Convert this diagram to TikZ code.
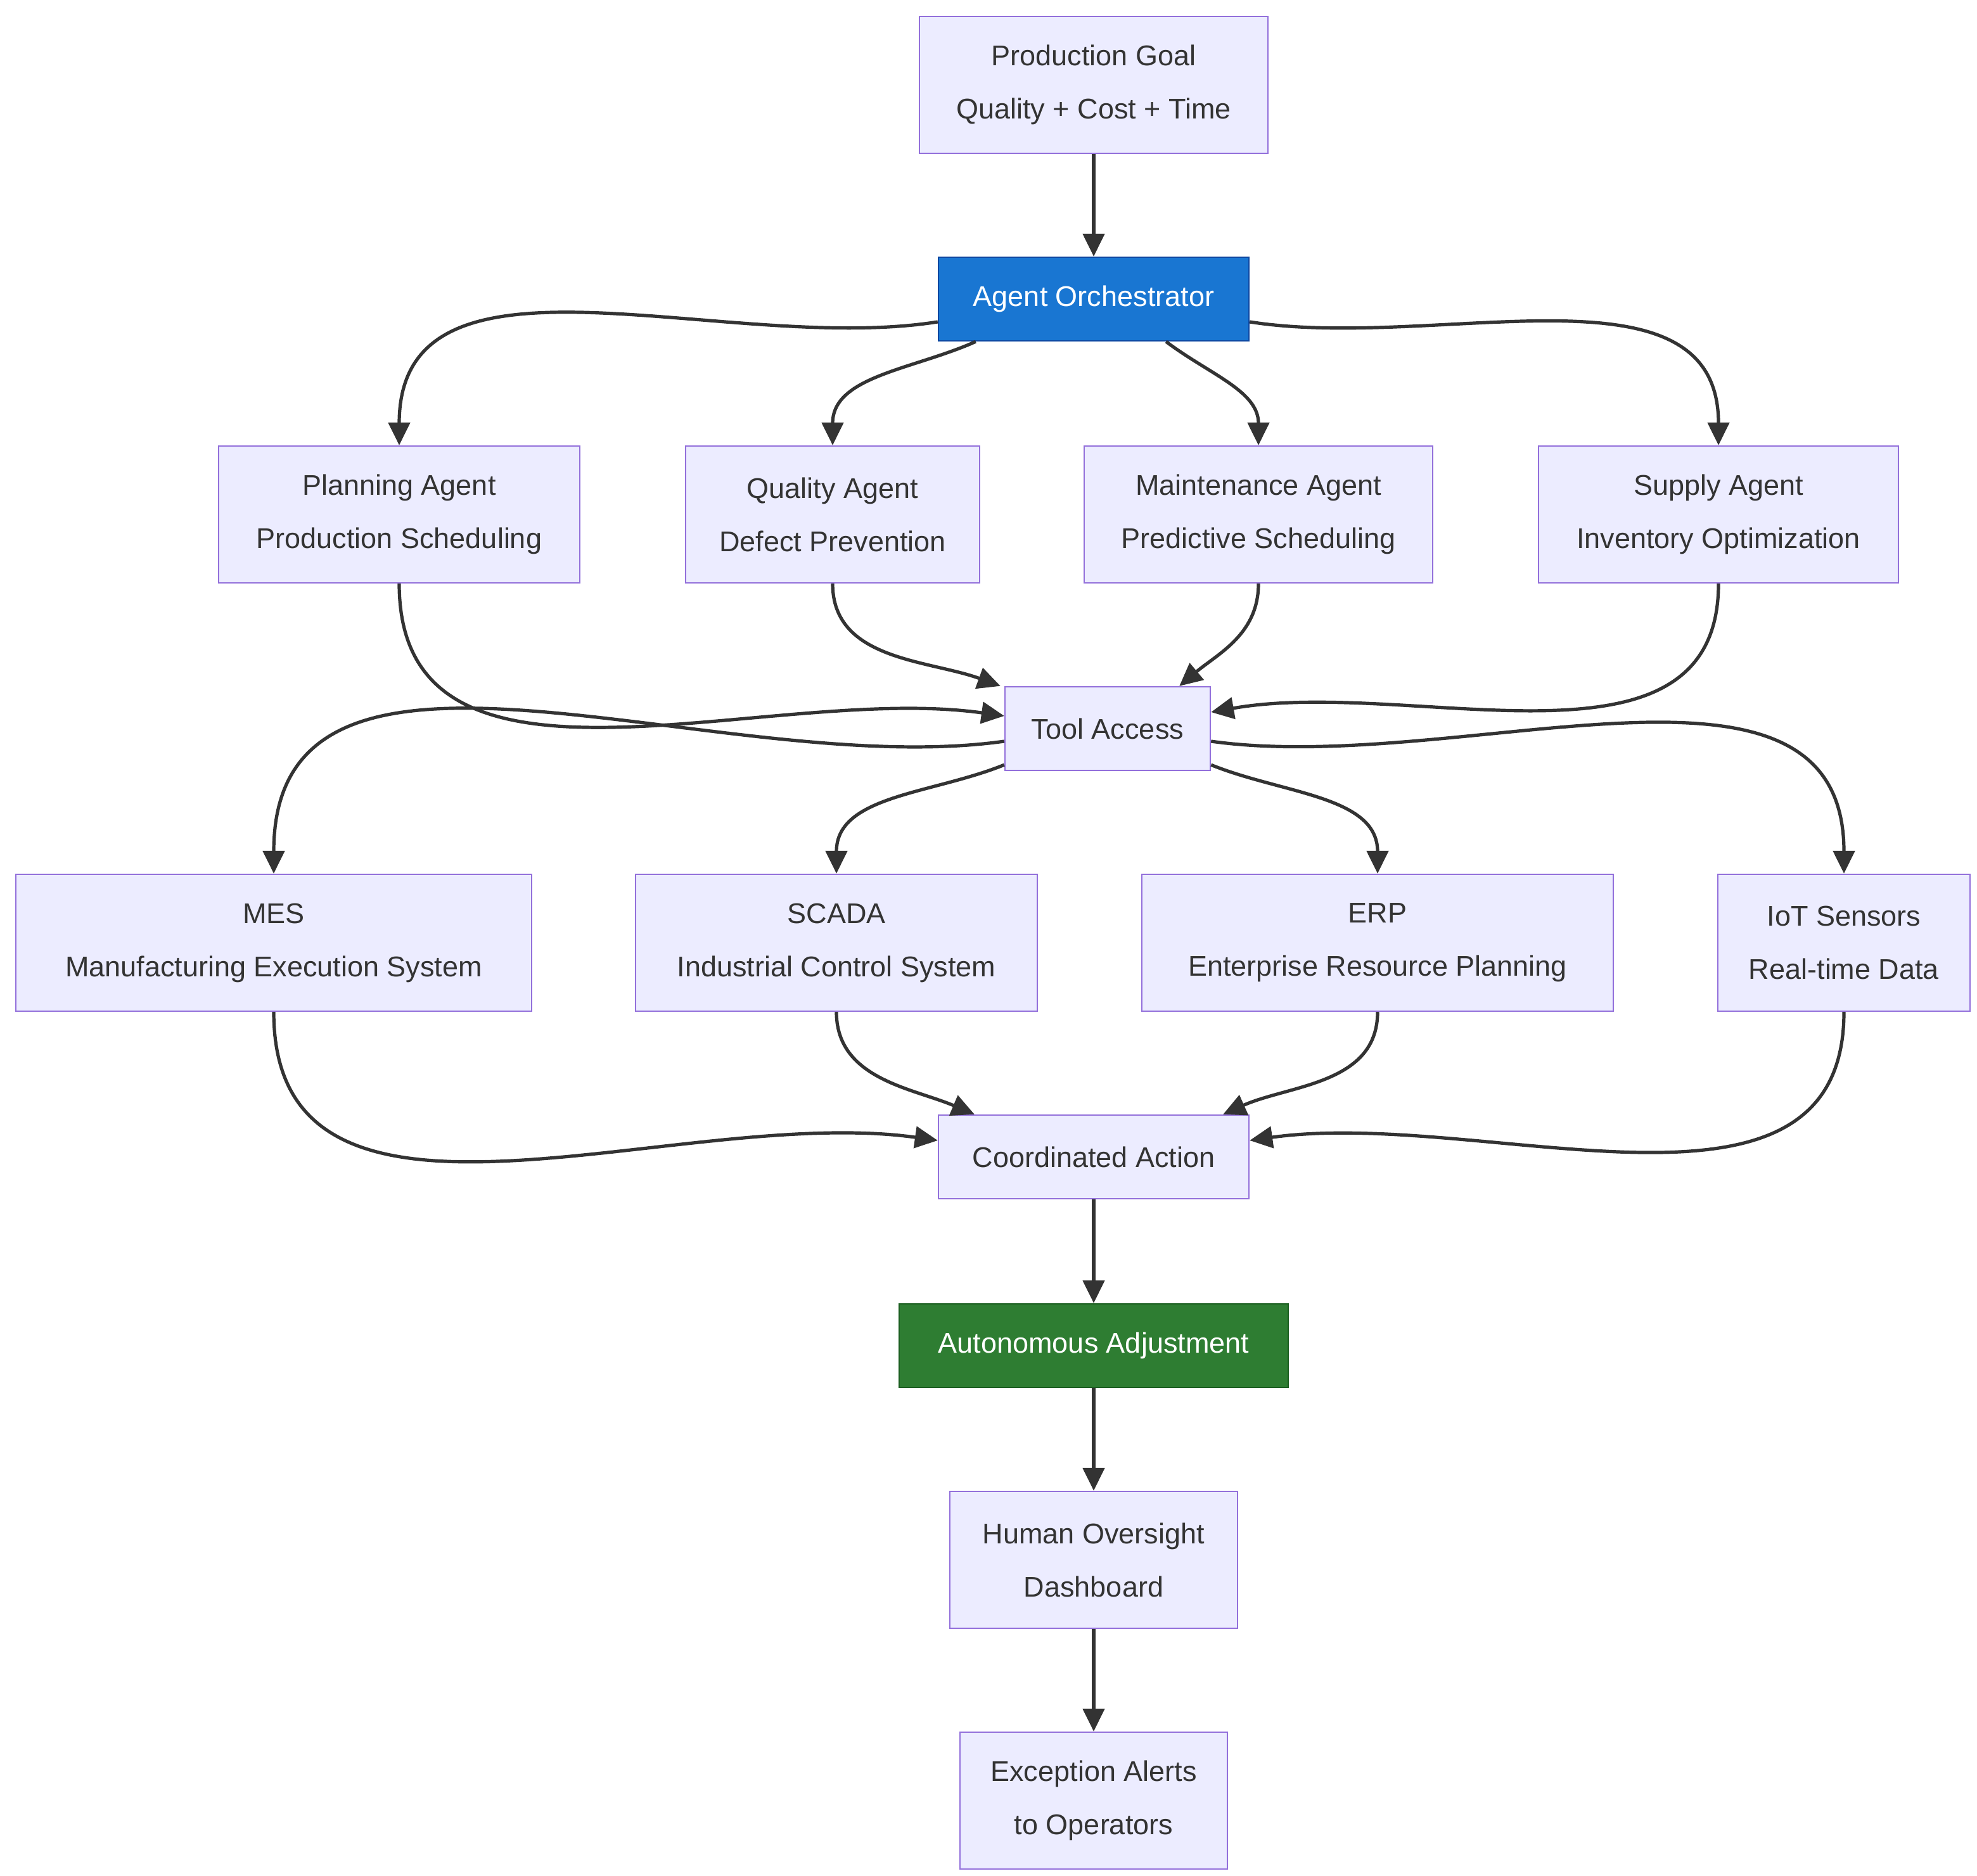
\documentclass[tikz,border=0pt]{standalone}
\usepackage{fontspec}
\setmainfont{Liberation Sans}
\usetikzlibrary{arrows.meta}
\definecolor{nfill}{HTML}{ECECFF}
\definecolor{nline}{HTML}{9370DB}
\definecolor{aline}{HTML}{333333}
\definecolor{tcol}{HTML}{333333}
\definecolor{ofill}{HTML}{1976D2}
\definecolor{oline}{HTML}{0D47A1}
\definecolor{afill}{HTML}{2E7D32}
\definecolor{aln}{HTML}{1B5E20}
\tikzset{
 box/.style={draw=nline,fill=nfill,line width=1.2pt,text=tcol,align=center,font=\fontsize{22.5}{42}\selectfont,inner sep=0pt},
 conn/.style={draw=aline,line width=2.6pt,-{Triangle[length=18pt,width=17pt]}},
}
\begin{document}
\begin{tikzpicture}[x=1pt,y=-1pt]
\useasboundingbox (0,0) rectangle (1560,1480);
\node[box,minimum width=275pt,minimum height=108pt] (g) at (863,67) {Production Goal\\Quality + Cost + Time};
\node[box,minimum width=245pt,minimum height=66pt,fill=ofill,draw=oline,text=white] (o) at (863,236) {Agent Orchestrator};
\node[box,minimum width=285pt,minimum height=108pt] (p) at (315,406) {Planning Agent\\Production Scheduling};
\node[box,minimum width=232pt,minimum height=108pt] (q) at (657,406) {Quality Agent\\Defect Prevention};
\node[box,minimum width=275pt,minimum height=108pt] (m) at (993,406) {Maintenance Agent\\Predictive Scheduling};
\node[box,minimum width=284pt,minimum height=108pt] (s) at (1356,406) {Supply Agent\\Inventory Optimization};
\node[box,minimum width=162pt,minimum height=66pt] (t) at (874,575) {Tool Access};
\node[box,minimum width=407pt,minimum height=108pt] (mes) at (216,744) {MES\\Manufacturing Execution System};
\node[box,minimum width=317pt,minimum height=108pt] (sc) at (660,744) {SCADA\\Industrial Control System};
\node[box,minimum width=372pt,minimum height=108pt] (erp) at (1087,744) {ERP\\Enterprise Resource Planning};
\node[box,minimum width=199pt,minimum height=108pt] (iot) at (1455,744) {IoT Sensors\\Real-time Data};
\node[box,minimum width=245pt,minimum height=66pt] (c) at (863,913) {Coordinated Action};
\node[box,minimum width=307pt,minimum height=66pt,fill=afill,draw=aln,text=white] (a) at (863,1062) {Autonomous Adjustment};
\node[box,minimum width=227pt,minimum height=108pt] (h) at (863,1231) {Human Oversight\\Dashboard};
\node[box,minimum width=211pt,minimum height=108pt] (e) at (863,1421) {Exception Alerts\\to Operators};

\draw[conn] (g) -- (o);
\draw[conn] ([yshift=-18pt]o.west) to[out=189,in=90] (p.north);
\draw[conn] ([xshift=30pt]o.south west) to[out=204,in=90] (q.north);
\draw[conn] ([xshift=-66pt]o.south east) to[out=323,in=90] (m.north);
\draw[conn] ([yshift=-18pt]o.east) to[out=351,in=90] (s.north);

\draw[conn] (p.south) to[out=-90,in=172] ([yshift=10pt]t.west);
\draw[conn] (q.south) to[out=-90,in=160] ([xshift=-3pt]t.north west);
\draw[conn] (m.south) to[out=-90,in=40] ([xshift=-25pt]t.north east);
\draw[conn] (s.south) to[out=-90,in=10] ([yshift=13pt]t.east);

\draw[conn] ([yshift=-10pt]t.west) to[out=188,in=90] (mes.north);
\draw[conn] ([yshift=5pt]t.south west) to[out=202,in=90] (sc.north);
\draw[conn] ([yshift=5pt]t.south east) to[out=338,in=90] (erp.north);
\draw[conn] ([yshift=-10pt]t.east) to[out=352,in=90] (iot.north);

\draw[conn] (mes.south) to[out=-90,in=172] ([yshift=13pt]c.west);
\draw[conn] (sc.south) to[out=-90,in=157] ([xshift=29pt]c.north west);
\draw[conn] (erp.south) to[out=-90,in=24] ([xshift=-21pt]c.north east);
\draw[conn] (iot.south) to[out=-90,in=8] ([yshift=13pt]c.east);

\draw[conn] (c) -- (a);
\draw[conn] (a) -- (h);
\draw[conn] (h) -- (e);
\end{tikzpicture}
\end{document}
